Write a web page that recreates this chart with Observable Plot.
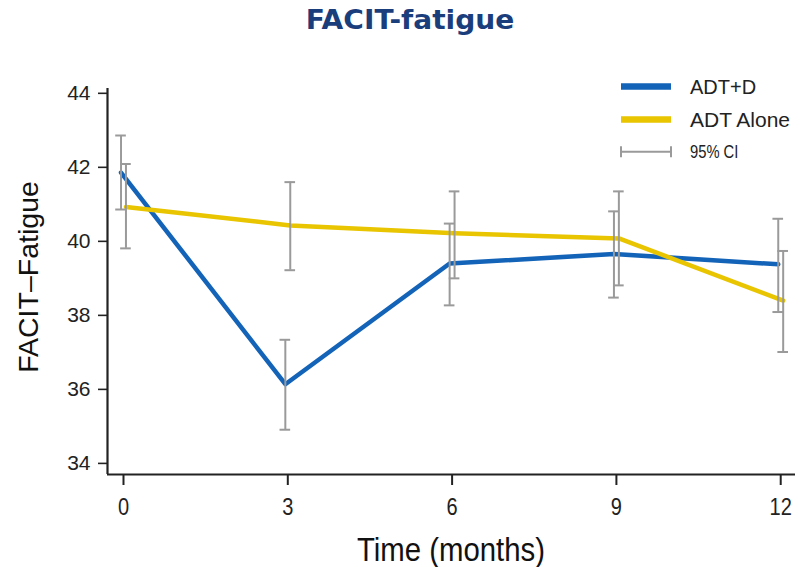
<!DOCTYPE html>
<html>
<head>
<meta charset="utf-8">
<script src="https://cdn.jsdelivr.net/npm/d3@7"></script>
<script src="https://cdn.jsdelivr.net/npm/@observablehq/plot@0.6"></script>
<style>
  html, body { margin: 0; padding: 0; background: #fff; }
  #chart svg { display: block; }
</style>
</head>
<body>
<div id="chart"></div>
<script>
// FACIT-fatigue scores over time, mean with 95% CI per arm
const months = [0, 3, 6, 9, 12];
const seriesNames = ["ADT+D", "ADT Alone"];
const adtDMean = [41.86, 36.14, 39.40, 39.66, 39.38];
const adtDLow = [40.86, 34.91, 38.27, 38.48, 38.09];
const adtDHigh = [42.86, 37.34, 40.48, 40.81, 40.61];
const adtAloneMean = [40.93, 40.43, 40.22, 40.08, 38.40];
const adtAloneLow = [39.81, 39.22, 39.00, 38.81, 37.01];
const adtAloneHigh = [42.09, 41.60, 41.35, 41.35, 39.74];
const xTicks = [0, 3, 6, 9, 12];
const yTicks = [34, 36, 38, 40, 42, 44];

const colors = { "ADT+D": "#1363b8", "ADT Alone": "#e8c500" };
const ciColor = "#9a9a9a";
const dodge = { "ADT+D": -0.045, "ADT Alone": 0.045 };
const capHalf = 0.097;

const rows = [];
months.forEach((m, i) => {
  rows.push({ series: "ADT+D", month: m, x: m + dodge["ADT+D"], mean: adtDMean[i], lo: adtDLow[i], hi: adtDHigh[i] });
  rows.push({ series: "ADT Alone", month: m, x: m + dodge["ADT Alone"], mean: adtAloneMean[i], lo: adtAloneLow[i], hi: adtAloneHigh[i] });
});

const xDomain = [-0.292, 12.27];
const yDomain = [33.70, 44.13];
const sans = "'Liberation Sans', Arial, sans-serif";

const chart = Plot.plot({
  width: 800,
  height: 567,
  marginLeft: 107,
  marginRight: 5,
  marginTop: 88,
  marginBottom: 93,
  style: { fontFamily: sans, color: "#222", background: "#fff", overflow: "visible" },
  x: { domain: xDomain, label: null },
  y: { domain: yDomain, label: null },
  color: { domain: seriesNames, range: seriesNames.map(s => colors[s]) },
  marks: [
    Plot.axisX({ ticks: xTicks, tickSize: 11, tickPadding: 13, fontSize: 23, stroke: "#222", strokeWidth: 2, label: null }),
    Plot.axisY({ ticks: yTicks, tickSize: 9, tickPadding: 8, fontSize: 21, stroke: "#222", strokeWidth: 1.6, label: null }),
    Plot.ruleY([yDomain[0]], { x1: xDomain[0], x2: xDomain[1], stroke: "#222", strokeWidth: 2.2 }),
    Plot.ruleX([xDomain[0]], { y1: yDomain[0], y2: yDomain[1], stroke: "#222", strokeWidth: 2.2 }),
    Plot.line(rows, { x: "x", y: "mean", z: "series", stroke: "series", strokeWidth: 4.5, strokeLinejoin: "round" }),
    Plot.ruleX(rows, { x: "x", y1: "lo", y2: "hi", stroke: ciColor, strokeWidth: 2 }),
    Plot.ruleY(rows, { y: "lo", x1: d => d.x - capHalf, x2: d => d.x + capHalf, stroke: ciColor, strokeWidth: 2 }),
    Plot.ruleY(rows, { y: "hi", x1: d => d.x - capHalf, x2: d => d.x + capHalf, stroke: ciColor, strokeWidth: 2 })
  ]
});

document.getElementById("chart").appendChild(chart);

const svg = d3.select(chart);

// Condensed look for the x tick labels
svg.selectAll("[aria-label='x-axis tick label'] text").each(function () {
  const t = d3.select(this);
  const tr = t.attr("transform") || "";
  t.attr("transform", tr + " scale(0.87,1)");
  const x = +t.attr("x");
  if (x) t.attr("x", x / 0.87);
});

// Titles and legend drawn into the same SVG
svg.append("text")
  .attr("transform", "translate(410,29) scale(1.08,1)")
  .attr("text-anchor", "middle")
  .attr("font-family", "'DejaVu Sans', Verdana, sans-serif")
  .attr("font-weight", "bold")
  .attr("font-size", 26)
  .attr("fill", "#1a3d7c")
  .text("FACIT-fatigue");

svg.append("text")
  .attr("transform", "translate(38,277) rotate(-90)")
  .attr("text-anchor", "middle")
  .attr("font-family", sans)
  .attr("font-size", 28.5)
  .attr("fill", "#111")
  .text("FACIT\u2013Fatigue");

svg.append("text")
  .attr("transform", "translate(451,561) scale(0.89,1)")
  .attr("text-anchor", "middle")
  .attr("font-family", sans)
  .attr("font-size", 33)
  .attr("fill", "#111")
  .text("Time (months)");

const legend = svg.append("g").attr("text-anchor", "start");
const lx1 = 621, lx2 = 671, tx = 690;
const entries = [
  { label: "ADT+D", y: 86.5, color: colors["ADT+D"], size: 20 },
  { label: "ADT Alone", y: 119.5, color: colors["ADT Alone"], size: 21 }
];
entries.forEach(e => {
  legend.append("line").attr("x1", lx1).attr("x2", lx2).attr("y1", e.y).attr("y2", e.y)
    .attr("stroke", e.color).attr("stroke-width", 6.5);
  legend.append("text").attr("x", tx).attr("y", e.y).attr("dy", "0.36em")
    .attr("text-anchor", "start")
    .attr("font-family", sans).attr("font-size", e.size).attr("fill", "#222").text(e.label);
});
const ciY = 151.7;
legend.append("line").attr("x1", lx1).attr("x2", lx2).attr("y1", ciY).attr("y2", ciY)
  .attr("stroke", ciColor).attr("stroke-width", 2);
[lx1, lx2].forEach(x => legend.append("line").attr("x1", x).attr("x2", x)
  .attr("y1", ciY - 5.5).attr("y2", ciY + 5.5).attr("stroke", ciColor).attr("stroke-width", 2));
legend.append("text").attr("transform", `translate(${tx},${ciY}) scale(0.82,1)`).attr("dy", "0.36em")
  .attr("text-anchor", "start")
  .attr("font-family", sans).attr("font-size", 18).attr("fill", "#222").text("95% CI");
</script>
</body>
</html>
